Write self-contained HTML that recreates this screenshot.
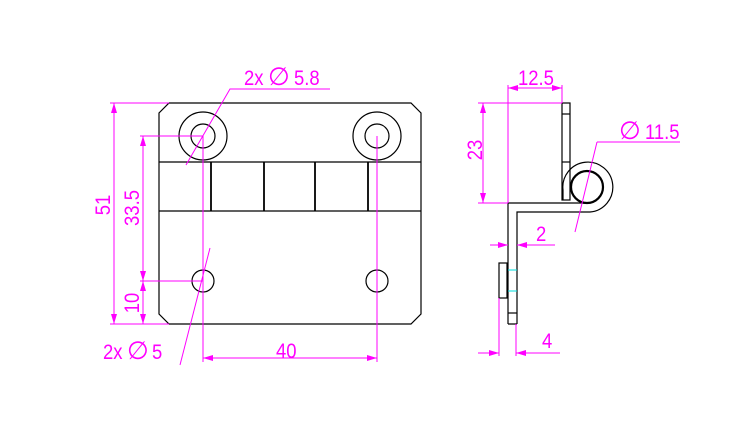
<!DOCTYPE html>
<html><head><style>body{margin:0;background:#fff}svg{display:block}text{font-family:"Liberation Sans",sans-serif;fill:#f0f}</style></head>
<body>
<svg width="750" height="439" viewBox="0 0 750 439" xmlns="http://www.w3.org/2000/svg">
<defs>
<marker id="a" viewBox="0 0 10 6" refX="10" refY="3" markerWidth="10" markerHeight="6" orient="auto-start-reverse" markerUnits="userSpaceOnUse"><path d="M0,0L10,3L0,6z" fill="#f0f"/></marker>
</defs>
<g fill="none" stroke="#000" stroke-width="1.2">
<path d="M169,103H411L421,113V314L411,324H169L159,314V113Z"/>
<line x1="159" y1="162" x2="421" y2="162"/>
<line x1="159" y1="211" x2="421" y2="211"/>
<g stroke-width="1.8"><line x1="211" y1="162" x2="211" y2="211"/><line x1="264" y1="162" x2="264" y2="211"/><line x1="315" y1="162" x2="315" y2="211"/><line x1="368" y1="162" x2="368" y2="211"/></g>
<circle cx="203" cy="136" r="24"/><circle cx="203" cy="136" r="12"/>
<circle cx="377" cy="136" r="24"/><circle cx="377" cy="136" r="12"/>
<circle cx="203" cy="281" r="11"/><circle cx="377" cy="281" r="11"/>
<rect x="562" y="103" width="8" height="97"/>
<line x1="562" y1="114" x2="570" y2="114"/><line x1="562" y1="162" x2="570" y2="162"/>
<path d="M508,324V203H590 M517,324V212H590 A25,25 0 1 0 563,190 V200 M508,324H517"/>
<circle cx="587" cy="187" r="16" stroke-width="2.2"/>
<line x1="508" y1="313" x2="517" y2="313"/>
<rect x="499" y="263" width="8" height="35"/>
</g>
<g stroke="#0dd" stroke-width="1"><line x1="508" y1="270" x2="517" y2="270"/><line x1="508" y1="291" x2="517" y2="291"/></g>
<g stroke="#f0f" stroke-width="1" fill="none">
<line x1="110" y1="103" x2="169" y2="103"/><line x1="110" y1="324" x2="169" y2="324"/>
<line x1="114" y1="103" x2="114" y2="324" marker-start="url(#a)" marker-end="url(#a)"/>
<line x1="140" y1="136" x2="203" y2="136"/><line x1="140" y1="281" x2="203" y2="281"/>
<line x1="143" y1="136" x2="143" y2="281" marker-start="url(#a)" marker-end="url(#a)"/>
<line x1="143" y1="281" x2="143" y2="324" marker-start="url(#a)" marker-end="url(#a)"/>
<line x1="203" y1="136" x2="203" y2="362"/><line x1="377" y1="136" x2="377" y2="362"/>
<line x1="203" y1="358" x2="377" y2="358" marker-start="url(#a)" marker-end="url(#a)"/>
<path d="M186,165L230,89H330"/>
<line x1="210" y1="248" x2="180" y2="365"/>
<line x1="478" y1="103" x2="562" y2="103"/><line x1="478" y1="203" x2="508" y2="203"/>
<line x1="483" y1="103" x2="483" y2="203" marker-start="url(#a)" marker-end="url(#a)"/>
<line x1="508" y1="85" x2="508" y2="203"/><line x1="562" y1="85" x2="562" y2="103"/>
<line x1="508" y1="88" x2="562" y2="88" marker-start="url(#a)" marker-end="url(#a)"/>
<path d="M597,142H680"/><line x1="597" y1="142" x2="575" y2="232"/>
<line x1="490" y1="245" x2="508" y2="245" marker-end="url(#a)"/>
<line x1="555" y1="245" x2="517" y2="245" marker-end="url(#a)"/>
<line x1="499" y1="298" x2="499" y2="356"/><line x1="516" y1="324" x2="516" y2="356"/>
<line x1="478" y1="353" x2="499" y2="353" marker-end="url(#a)"/>
<line x1="560" y1="353" x2="516" y2="353" marker-end="url(#a)"/>
</g>
<g font-size="21">
<text transform="translate(244,85) scale(0.88,1)">2x</text><text x="268" y="85" font-size="25">∅</text><text transform="translate(294,85) scale(0.88,1)">5.8</text>
<text transform="translate(103,359) scale(0.88,1)">2x</text><text x="127" y="359" font-size="25">∅</text><text transform="translate(152,359) scale(0.88,1)">5</text>
<text transform="translate(276,358) scale(0.88,1)">40</text>
<text transform="translate(110,205) rotate(-90) scale(0.88,1)" text-anchor="middle">51</text>
<text transform="translate(139,208) rotate(-90) scale(0.88,1)" text-anchor="middle">33.5</text>
<text transform="translate(139,303) rotate(-90) scale(0.88,1)" text-anchor="middle">10</text>
<text transform="translate(482,150) rotate(-90) scale(0.88,1)" text-anchor="middle">23</text>
<text transform="translate(518,85) scale(0.88,1)">12.5</text>
<text x="619" y="139" font-size="25">∅</text><text transform="translate(645,139) scale(0.88,1)">11.5</text>
<text transform="translate(536,241) scale(0.88,1)">2</text>
<text transform="translate(542,348) scale(0.88,1)">4</text>
</g>
</svg>
</body></html>
